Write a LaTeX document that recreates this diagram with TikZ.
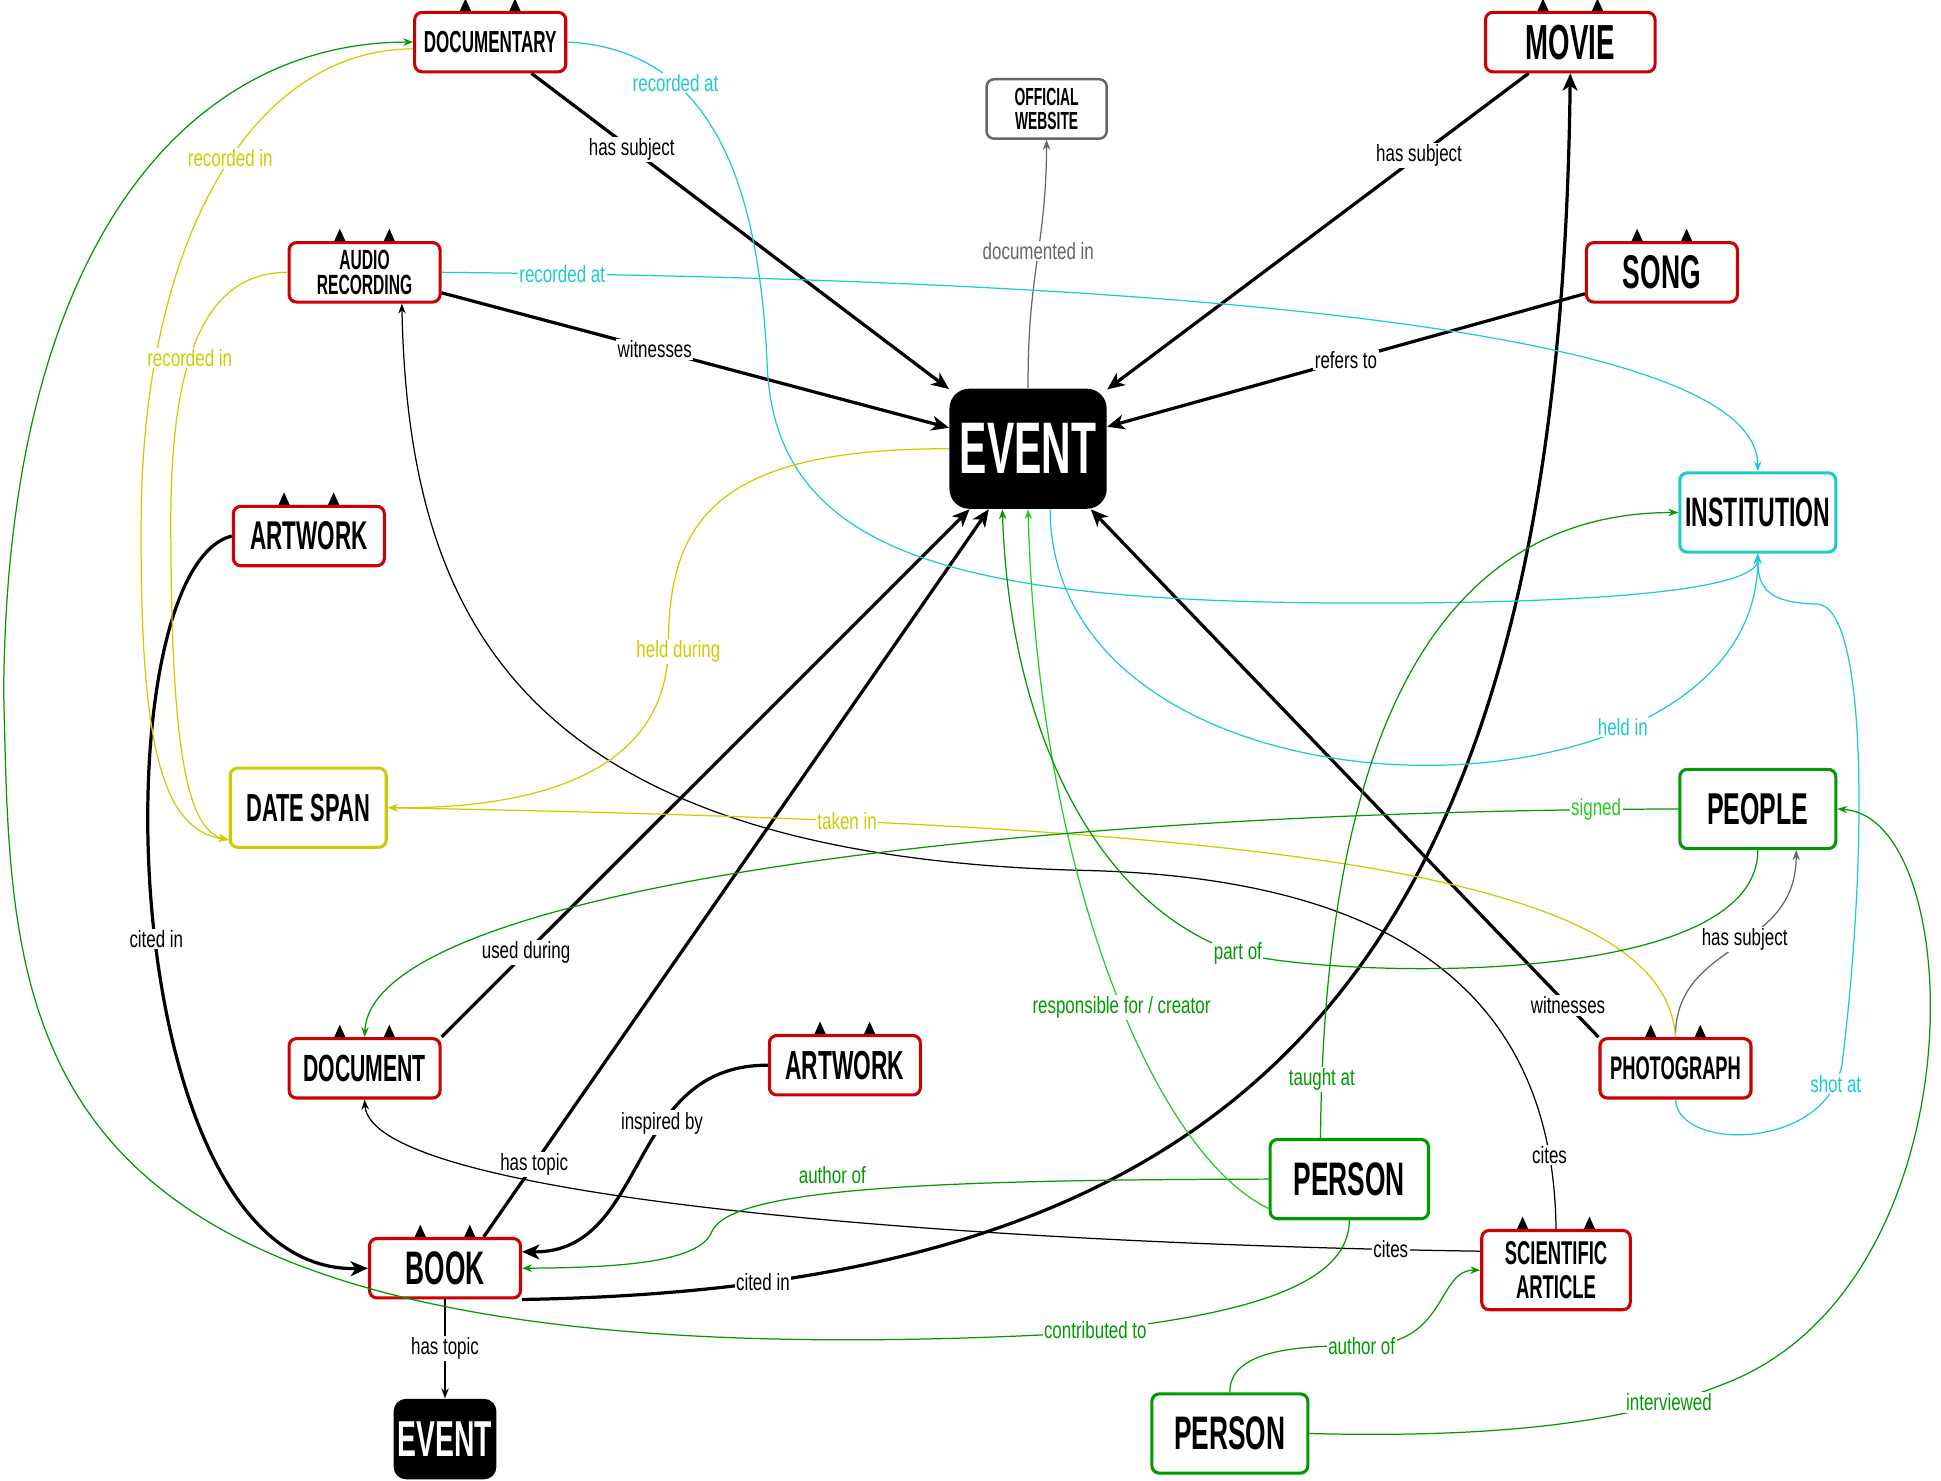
\documentclass[tikz,border=0pt]{standalone}
\usepackage{fontspec}
\newfontfamily\nodefont[FakeStretch=0.56]{Liberation Sans Bold}
\newfontfamily\edgefont[FakeStretch=0.72]{Liberation Sans}
\usetikzlibrary{arrows.meta}
\definecolor{redc}{HTML}{CC0000}
\definecolor{cyanc}{HTML}{1CCCCC}
\definecolor{yelc}{HTML}{CCCC00}
\definecolor{grnc}{HTML}{009900}
\definecolor{lgrnc}{HTML}{22CC22}
\definecolor{grayc}{HTML}{666666}
\newcommand{\nf}[2]{\nodefont\fontsize{#1}{#2}\selectfont}
\begin{document}
\begin{tikzpicture}[x=.5pt,y=-.5pt,
 box/.style={draw=redc,line width=1.25pt,rounded corners=3pt,fill=white,minimum width=61pt,minimum height=24pt,inner sep=1pt,align=center},
 tall/.style={box,minimum width=63pt,minimum height=32pt},
 evt/.style={fill=black,text=white,rounded corners=8pt,inner sep=1pt},
 lbl/.style={font=\edgefont\fontsize{9.5}{10}\selectfont,fill=white,inner sep=.6pt},
 strong/.style={line width=1.3pt,-{Stealth[length=7pt,width=6pt,inset=2pt]}},
 weak/.style={line width=.5pt,-{Stealth[length=4pt,width=3pt]}}]
\useasboundingbox (0,0) rectangle (1568,1196);
\node[box,font=\nf{12.3}{12}] (docu) at (396,34) {DOCUMENTARY};
\node[box,draw=grayc,line width=1pt,minimum width=48.5pt,font=\nf{10}{10}] (site) at (845.5,88) {OFFICIAL\\WEBSITE};
\node[box,minimum width=68.5pt,font=\nf{19.9}{20}] (movie) at (1268.5,34) {MOVIE};
\node[box,font=\nf{11.25}{10}] (audio) at (294.5,220) {AUDIO\\RECORDING};
\node[box,font=\nf{19.1}{19}] (song) at (1342.5,220) {SONG};
\node[evt,minimum width=63.5pt,minimum height=48.5pt,font=\nf{29.5}{30}] (event) at (830.5,362.5) {EVENT};
\node[tall,draw=cyanc,font=\nf{16.6}{17}] (inst) at (1420,414) {INSTITUTION};
\node[box,font=\nf{16.2}{16}] (artA) at (249.5,433) {ARTWORK};
\node[tall,draw=yelc,font=\nf{15.8}{16}] (date) at (249,652.5) {DATE SPAN};
\node[tall,draw=grnc,font=\nf{18}{18}] (people) at (1420,653.5) {PEOPLE};
\node[box,font=\nf{15.3}{15}] (doc) at (294.5,863) {DOCUMENT};
\node[box,font=\nf{16.4}{16}] (artB) at (682.5,860.5) {ARTWORK};
\node[box,font=\nf{13.2}{13}] (photo) at (1353.5,863) {PHOTOGRAPH};
\node[tall,draw=grnc,minimum width=64pt,font=\nf{19}{19}] (person) at (1090,952.5) {PERSON};
\node[box,font=\nf{19}{19}] (book) at (359.5,1024.5) {BOOK};
\node[tall,minimum width=60pt,font=\nf{13.3}{14}] (sci) at (1257,1026) {SCIENTIFIC\\ARTICLE};
\node[evt,rounded corners=5pt,minimum width=41.5pt,minimum height=32.5pt,font=\nf{20.4}{20}] (event2) at (359.5,1162.5) {EVENT};
\node[tall,draw=grnc,font=\nf{19}{19}] (person2) at (993.5,1158) {PERSON};
\foreach \nm/\d in {docu/20,movie/22,audio/20,song/20,artA/20,doc/20,artB/20,photo/20,book/20,sci/27}
  \foreach \s in {-1,1}
    \fill ([xshift=\s*\d*.5pt]\nm.north) ++(-4.5,0) -- ++(9,0) -- ++(-4.5,-10) -- cycle;
% black links
\draw[strong] (docu) -- (event) node[lbl,pos=.24] {has subject};
\draw[strong] (movie) -- (event) node[lbl,pos=.26] {has subject};
\draw[strong] (audio) -- (event) node[lbl,pos=.42] {witnesses};
\draw[strong] (song) -- (event) node[lbl,pos=.5] {refers to};
\draw[strong] (doc.north east) -- (event.-134) node[lbl,pos=.16] {used during};
\draw[strong] (book.39) -- (event.-123) node[lbl,pos=.1] {has topic};
\draw[strong] (photo.north west) -- (event.-44) node[lbl,pos=.06] {witnesses};
\draw[strong] (artA.west) .. controls (80,460) and (90,1030) .. (book.west) node[lbl,pos=.52] {cited in};
\draw[strong] (artB.west) .. controls (505,860) and (525,1012) .. (book.12) node[lbl,pos=.37] {inspired by};
\draw[strong] (book.south east) .. controls (1000,1040) and (1260,800) .. (movie.south) node[lbl,pos=.12] {cited in};
\draw[weak] (book.south) -- (event2.north) node[lbl,pos=.5] {has topic};
\draw[weak] (sci.north) .. controls (1255,820) and (1150,708) .. (870,703) node[lbl,pos=.12] {cites} .. controls (420,690) and (330,500) .. (audio.-40);
\draw[weak] (sci.166) .. controls (800,1005) and (300,970) .. (doc.south) node[lbl,pos=.06] {cites};
% grey links
\draw[weak,grayc] (event.north) .. controls (830,220) and (845,200) .. (site.south) node[lbl,pos=.55] {documented in};
\draw[weak,grayc] (photo.north) .. controls (1353,760) and (1451,770) .. (people.-47) node[lbl,pos=.55,text=black] {has subject};
% cyan links
\draw[weak,cyanc] (docu.east) .. controls (590,40) and (615,180) .. (620,300) node[lbl,pos=.28] {recorded at} .. controls (630,460) and (800,490) .. (1150,487) .. controls (1350,485) and (1420,470) .. (inst.south);
\draw[weak,cyanc] (audio.east) .. controls (900,225) and (1420,260) .. (inst.north) node[lbl,pos=.06] {recorded at};
\draw[weak,cyanc] (event.-70) .. controls (850,680) and (1420,680) .. (inst.south) node[lbl,pos=.72] {held in};
\draw[weak,cyanc] (photo.south) .. controls (1355,930) and (1475,930) .. (1488,860) node[lbl,pos=.92] {shot at} .. controls (1508,700) and (1510,490) .. (1468,488) .. controls (1428,487) and (1420,475) .. (inst.south);
% yellow links
\draw[weak,yelc] (event.west) .. controls (580,362) and (540,420) .. (540,520) node[lbl,pos=1,xshift=4pt,yshift=-3pt] {held during} .. controls (540,640) and (400,653) .. (date.east);
\draw[weak,yelc] (photo.north) .. controls (1345,700) and (1000,665) .. (date.east) node[lbl,pos=.8] {taken in};
\draw[weak,yelc] (docu.185) .. controls (200,40) and (115,200) .. (114,420) node[lbl,pos=.45] {recorded in} .. controls (113,600) and (130,670) .. (date.-158);
\draw[weak,yelc] (audio.west) .. controls (170,220) and (138,280) .. (138,420) node[lbl,pos=.6] {recorded in} .. controls (138,600) and (150,670) .. (date.-158);
% green links
\draw[weak,grnc] (person.south) .. controls (1090,1040) and (1000,1065) .. (850,1078) node[lbl,pos=.92] {contributed to} .. controls (0,1120) and (10,850) .. (3,560) .. controls (5,200) and (150,34) .. (docu.west);
\draw[weak,grnc] (person.west) .. controls (750,953) and (590,960) .. (575,995) node[lbl,pos=.57,anchor=south,yshift=3pt] {author of} .. controls (565,1020) and (500,1024) .. (book.east);
\draw[weak,grnc] (person.125) .. controls (1070,560) and (1180,414) .. (inst.west) node[lbl,pos=.045] {taught at};
\draw[weak,lgrnc] (person.-160) .. controls (930,930) and (838,700) .. (event.south) node[lbl,pos=.45,text=grnc] {responsible for / creator};
\draw[weak,grnc] (people.south) .. controls (1420,800) and (1080,790) .. (1000,770) node[lbl] {part of} .. controls (880,730) and (815,580) .. (event.-113);
\draw[weak,grnc] (people.west) .. controls (800,655) and (300,720) .. (doc.north) node[lbl,pos=.04,text=lgrnc] {signed};
\draw[weak,grnc] (person2.north) .. controls (993,1090) and (1050,1087) .. (1100,1087) node[lbl] {author of} .. controls (1170,1087) and (1160,1026) .. (sci.west);
\draw[weak,grnc] (person2.east) .. controls (1250,1163) and (1340,1140) .. (1400,1115) node[lbl,pos=.75] {interviewed} .. controls (1600,1030) and (1590,660) .. (people.east);
\end{tikzpicture}
\end{document}
